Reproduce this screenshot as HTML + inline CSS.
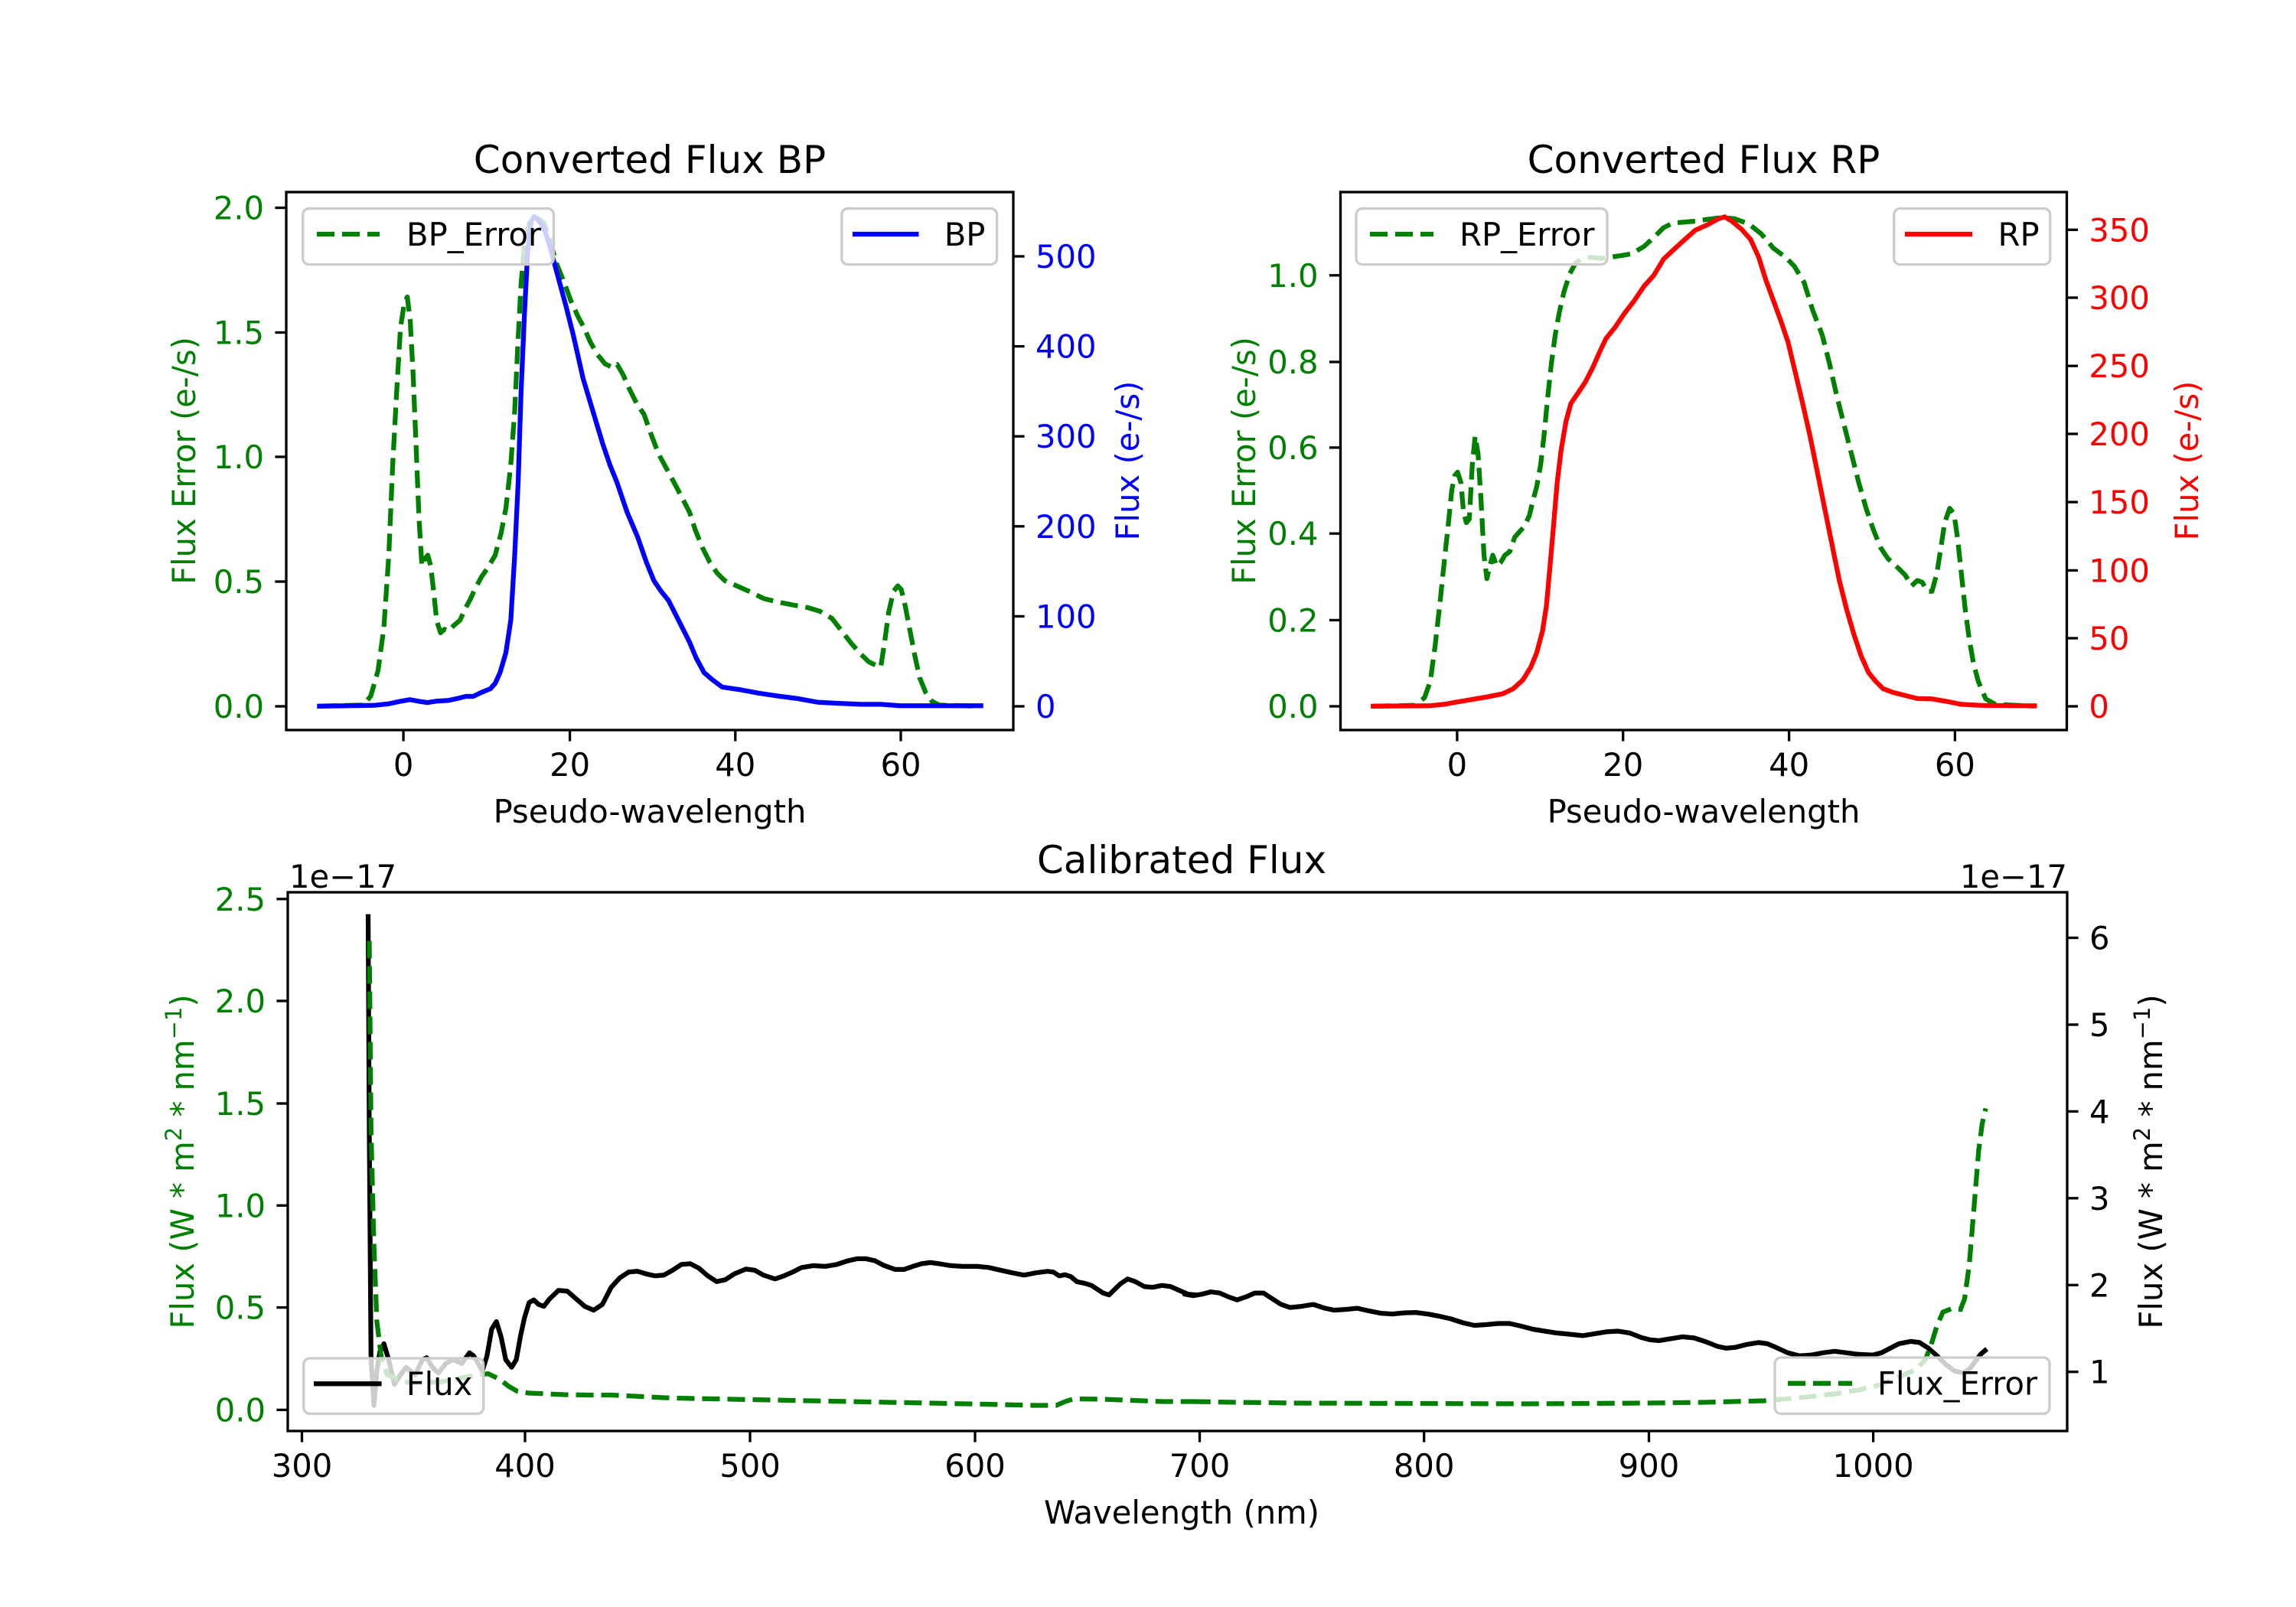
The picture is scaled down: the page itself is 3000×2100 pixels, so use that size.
<!DOCTYPE html>
<html><head><meta charset="utf-8"><style>
html,body{margin:0;padding:0;background:#fff}
svg{display:block}
text{font-family:"DejaVu Sans","Liberation Sans",sans-serif}
</style></head><body>
<svg id="s" width="3000" height="2100" viewBox="0 0 3000 2100" xmlns="http://www.w3.org/2000/svg">
<rect width="3000" height="2100" fill="#fff"/>
<g id="lines"></g>
<g id="frames" fill="none" stroke="#000" stroke-width="3.3">
<rect x="374" y="251" width="950" height="703"/>
<rect x="1751.5" y="251" width="949" height="703"/>
<rect x="376" y="1166" width="2325" height="704"/>
</g>
<g id="ticks" stroke="#000" stroke-width="3.3"></g>
<g id="labels" font-size="41.7"></g>
<g font-size="50" text-anchor="middle">
<text x="849" y="226">Converted Flux BP</text>
<text x="2226" y="226">Converted Flux RP</text>
<text x="1544" y="1141">Calibrated Flux</text>
</g>
<g font-size="41.7">
<text x="378" y="1160">1e−17</text>
<text x="2701" y="1160" text-anchor="end">1e−17</text>
<text x="849" y="1075" text-anchor="middle">Pseudo-wavelength</text>
<text x="2226" y="1075" text-anchor="middle">Pseudo-wavelength</text>
<text x="1544" y="1991" text-anchor="middle">Wavelength (nm)</text>
<text transform="translate(255,602) rotate(-90)" text-anchor="middle" fill="#008000">Flux Error (e-/s)</text>
<text transform="translate(1488,602) rotate(-90)" text-anchor="middle" fill="#0000ff">Flux (e-/s)</text>
<text transform="translate(1640,602) rotate(-90)" text-anchor="middle" fill="#008000">Flux Error (e-/s)</text>
<text transform="translate(2872,602) rotate(-90)" text-anchor="middle" fill="#ff0000">Flux (e-/s)</text>
<text transform="translate(253,1518) rotate(-90)" text-anchor="middle" fill="#008000">Flux (W * m<tspan font-size="29" dy="-16">2</tspan><tspan dy="16"> * nm</tspan><tspan font-size="29" dy="-16">−1</tspan><tspan dy="16">)</tspan></text>
<text transform="translate(2825,1518) rotate(-90)" text-anchor="middle" fill="#000">Flux (W * m<tspan font-size="29" dy="-16">2</tspan><tspan dy="16"> * nm</tspan><tspan font-size="29" dy="-16">−1</tspan><tspan dy="16">)</tspan></text>
</g>
<g id="legends"></g>
</svg>
<script>
var NS="http://www.w3.org/2000/svg";
function el(p,t,a,txt){var e=document.createElementNS(NS,t);for(var k in a)e.setAttribute(k,a[k]);if(txt!==undefined)e.textContent=txt;document.getElementById(p).appendChild(e);return e;}
function conv(pts,ox,oy,sx,sy){return pts.map(function(p){return (ox+p[0]/sx).toFixed(1)+","+(oy+p[1]/sy).toFixed(1)}).join(" ");}
function line(parent,pts,ox,oy,sx,sy,col,dash){var a={points:conv(pts,ox,oy,sx,sy),fill:"none",stroke:col,"stroke-width":6.25,"stroke-linejoin":"round"};if(dash){a["stroke-dasharray"]="23 10";}else{a["stroke-linecap"]="square";}el(parent,"polyline",a);}
var s1x=1.568,s1y=740/1568*0+2.119;
// Panel 1
var bpErr=[[90,1468],[180,1465],[195,1440],[210,1370],[222,1250],[232,1050],[240,800],[248,600],[256,420],[264,350],[270,335],[276,400],[282,550],[288,750],[294,950],[300,1080],[306,1060],[312,1050],[318,1080],[324,1150],[330,1230],[338,1265],[346,1255],[355,1260],[365,1245],[378,1230],[388,1200],[398,1175],[410,1140],[422,1110],[435,1085],[450,1050],[462,990],[472,920],[482,800],[490,650],[497,450],[503,300],[510,190],[520,130],[535,115],[550,130],[562,175],[575,240],[590,290],[605,345],[620,390],[632,420],[645,460],[660,495],[675,520],[690,530],[700,522],[712,550],[725,590],[740,630],[755,660],[768,710],[785,770],[805,820],[825,870],[848,930],[860,980],[875,1030],[890,1070],[905,1100],[920,1120],[945,1135],[970,1150],[1000,1170],[1030,1180],[1060,1188],[1090,1195],[1115,1205],[1140,1225],[1160,1260],[1180,1295],[1200,1325],[1215,1345],[1230,1355],[1240,1360],[1248,1290],[1256,1210],[1266,1150],[1275,1135],[1282,1145],[1290,1190],[1300,1260],[1310,1330],[1320,1390],[1332,1430],[1345,1455],[1360,1465],[1440,1468]];
var bp=[[90,1468],[200,1466],[230,1462],[255,1455],[275,1450],[295,1455],[312,1458],[330,1454],[355,1452],[375,1446],[390,1441],[405,1441],[420,1431],[440,1420],[450,1405],[460,1375],[472,1320],[482,1230],[490,1050],[497,850],[503,600],[510,380],[517,200],[524,125],[530,112],[540,125],[550,145],[560,185],[575,260],[595,360],[610,440],[630,560],[650,650],[670,740],[685,800],[700,850],[720,930],[742,1000],[760,1070],[775,1120],[790,1150],[805,1175],[820,1215],[835,1255],[848,1290],[862,1335],[878,1375],[895,1395],[915,1415],[950,1422],[990,1432],[1030,1440],[1070,1447],[1110,1457],[1150,1460],[1200,1463],[1240,1463],[1280,1467],[1330,1467],[1445,1467]];
line("lines",bpErr,360,230,1.568,2.119,"#008000",true);
line("lines",bp,360,230,1.568,2.119,"#0000ff",false);
// Panel 2
var rpErr=[[85,1468],[170,1466],[190,1445],[202,1400],[212,1300],[222,1180],[232,1050],[240,950],[246,870],[252,830],[258,820],[265,850],[270,930],[276,960],[282,950],[288,800],[294,720],[300,770],[306,900],[312,1050],[318,1115],[324,1080],[330,1050],[338,1080],[346,1070],[355,1050],[365,1040],[375,1000],[385,985],[395,970],[405,940],[412,900],[420,860],[428,800],[435,720],[442,620],[450,520],[458,440],[466,380],[476,320],[488,270],[500,240],[512,230],[530,225],[550,228],[570,225],[595,220],[615,215],[640,195],[660,170],[680,143],[700,130],[720,128],[745,125],[770,120],[800,115],[825,118],[855,133],[880,160],[905,200],[930,225],[948,250],[968,295],[985,370],[1005,440],[1020,520],[1035,610],[1050,690],[1065,770],[1080,850],[1095,920],[1110,980],[1125,1030],[1140,1060],[1160,1085],[1175,1105],[1188,1135],[1200,1120],[1210,1125],[1220,1150],[1230,1150],[1240,1100],[1248,1030],[1256,960],[1266,920],[1275,935],[1282,1000],[1290,1100],[1298,1200],[1306,1280],[1315,1350],[1325,1400],[1340,1448],[1360,1463],[1440,1468]];
var rp=[[85,1468],[200,1467],[230,1463],[255,1457],[285,1450],[320,1442],[350,1434],[372,1420],[392,1395],[408,1360],[420,1320],[432,1260],[440,1190],[448,1070],[455,960],[462,850],[470,760],[480,680],[490,630],[505,600],[520,570],[535,530],[548,490],[562,450],[580,420],[600,380],[620,345],[640,305],[660,275],[680,230],[700,205],[720,180],[745,150],[770,135],[790,120],[805,113],[820,125],[840,148],[858,175],[875,225],[890,290],[905,345],[920,400],[935,460],[950,545],[965,630],[980,720],[995,820],[1010,920],[1025,1020],[1040,1120],[1055,1200],[1070,1270],[1085,1330],[1100,1375],[1115,1400],[1130,1420],[1150,1430],[1180,1440],[1200,1447],[1230,1448],[1260,1455],[1290,1463],[1330,1466],[1440,1467]];
line("lines",rpErr,1740,230,1.568,2.119,"#008000",true);
line("lines",rp,1740,230,1.568,2.119,"#ff0000",false);
// Bottom
var fA=[[145,130],[147,700],[150,1300],[155,1420],[160,1330],[165,1280],[172,1258],[180,1300],[190,1365],[200,1340],[210,1320],[225,1340],[238,1300],[245,1295],[255,1320],[265,1335],[278,1310],[290,1300],[305,1310],[318,1282],[325,1290],[333,1310],[340,1330],[348,1290],[356,1220],[364,1200],[372,1240],[380,1300],[390,1320],[398,1300],[405,1240],[412,1190],[420,1150],[428,1143],[436,1155],[445,1160],[455,1140],[470,1118],[485,1120],[500,1140],[515,1160],[530,1170],[545,1155],[560,1110],[575,1085],[590,1070],[605,1068],[620,1075],[635,1080],[650,1078],[665,1065],[680,1050],[695,1048],[710,1060],[725,1080],[740,1095],[755,1090],[770,1075],[790,1062],[805,1065],[820,1078],[840,1088],[855,1080],[870,1070],[885,1058],[905,1053],[925,1055],[945,1050],[965,1040],[980,1035],[995,1035],[1010,1040],[1025,1052],[1045,1063],[1060,1063],[1075,1055],[1090,1048],[1105,1045],[1120,1048],[1140,1053],[1160,1055],[1185,1055],[1205,1058],[1225,1065],[1245,1072],[1265,1078],[1285,1072],[1305,1068],[1315,1070],[1325,1080],[1335,1077],[1345,1082],[1355,1095],[1370,1100],[1380,1105],[1390,1115],[1400,1125],[1410,1130],[1420,1115],[1430,1100],[1442,1088],[1455,1095],[1470,1108],[1485,1110],[1500,1105],[1515,1108],[1530,1118],[1545,1128],[1560,1130]];
var fB=[[10,1128],[25,1132],[40,1128],[55,1122],[70,1125],[85,1135],[100,1143],[115,1135],[130,1125],[145,1125],[160,1140],[175,1155],[190,1163],[210,1160],[230,1155],[250,1165],[265,1170],[285,1168],[305,1165],[325,1172],[345,1178],[365,1180],[385,1177],[405,1176],[425,1180],[445,1186],[465,1193],[485,1203],[505,1210],[525,1208],[545,1205],[565,1205],[585,1212],[605,1220],[625,1225],[645,1230],[665,1233],[690,1237],[710,1232],[730,1227],[750,1225],[770,1230],[790,1242],[805,1248],[820,1250],[840,1245],[860,1240],[880,1243],[900,1253],[920,1265],[935,1270],[950,1268],[970,1260],[990,1255],[1005,1258],[1020,1268],[1040,1282],[1060,1290],[1080,1288],[1100,1282],[1120,1278],[1140,1282],[1160,1286],[1185,1288],[1200,1282],[1215,1270],[1230,1258],[1250,1252],[1265,1255],[1280,1270],[1295,1290],[1310,1313],[1325,1330],[1340,1335],[1350,1325],[1360,1305],[1370,1285],[1380,1272]];
var sxB=1.3067,syB=2.01;
// merge into one line in orig coords
var all=fA.map(function(p){return [370+p[0]/sxB,1130+p[1]/syB]}).concat(fB.map(function(p){return [1540+p[0]/sxB,1130+p[1]/syB]}));
var eA=[[147,200],[150,700],[155,1000],[160,1200],[168,1300],[178,1340],[195,1352],[215,1360],[240,1360],[270,1358],[300,1350],[330,1340],[350,1337],[370,1352],[385,1370],[400,1383],[420,1388],[450,1390],[480,1392],[520,1393],[560,1393],[600,1396],[650,1400],[700,1402],[800,1405],[900,1408],[1000,1411],[1100,1414],[1200,1417],[1280,1420],[1320,1420],[1335,1410],[1350,1403],[1400,1404],[1450,1407],[1500,1410],[1560,1410]];
var eB=[[20,1410],[100,1412],[200,1414],[400,1415],[600,1416],[800,1414],[900,1412],[1000,1408],[1060,1400],[1120,1390],[1160,1380],[1200,1365],[1230,1345],[1260,1325],[1275,1300],[1285,1260],[1295,1210],[1305,1175],[1320,1166],[1335,1168],[1342,1140],[1350,1050],[1358,900],[1366,750],[1372,680],[1378,640]];
var eall=eA.map(function(p){return [370+p[0]/sxB,1130+p[1]/syB]}).concat(eB.map(function(p){return [1540+p[0]/sxB,1130+p[1]/syB]}));
el("lines","polyline",{points:all.map(function(p){return p[0].toFixed(1)+","+p[1].toFixed(1)}).join(" "),fill:"none",stroke:"#000","stroke-width":6.25,"stroke-linejoin":"round"});
el("lines","polyline",{points:eall.map(function(p){return p[0].toFixed(1)+","+p[1].toFixed(1)}).join(" "),fill:"none",stroke:"#008000","stroke-width":6.25,"stroke-dasharray":"23 10"});
// ticks
function xt(xs,labs,yb){for(var i=0;i<xs.length;i++){el("ticks","line",{x1:xs[i],x2:xs[i],y1:yb,y2:yb+14.6});el("labels","text",{x:xs[i],y:yb+60,"text-anchor":"middle"},labs[i]);}}
function ytl(x,ys,labs,col){for(var i=0;i<ys.length;i++){el("ticks","line",{x1:x,x2:x-14.6,y1:ys[i],y2:ys[i]});el("labels","text",{x:x-29,y:ys[i]+15,"text-anchor":"end",fill:col},labs[i]);}}
function ytr(x,ys,labs,col){for(var i=0;i<ys.length;i++){el("ticks","line",{x1:x,x2:x+14.6,y1:ys[i],y2:ys[i]});el("labels","text",{x:x+29,y:ys[i]+15,"text-anchor":"start",fill:col},labs[i]);}}
xt([527.1,744.6,960.8,1177],["0","20","40","60"],954);
xt([1903.9,2120.7,2337.6,2554.4],["0","20","40","60"],954);
xt([394.5,686,980,1274,1567.5,1860.7,2154.5,2447.6],["300","400","500","600","700","800","900","1000"],1870);
ytl(374,[923,760,597,434.5,271.5],["0.0","0.5","1.0","1.5","2.0"],"#008000");
ytr(1324,[923,805.4,687.8,570.2,452.6,335],["0","100","200","300","400","500"],"#0000ff");
ytl(1751.5,[923,810.4,697.2,584.9,473,359.8],["0.0","0.2","0.4","0.6","0.8","1.0"],"#008000");
ytr(2700.4,[923,834,745.4,656.1,567,478.2,389,300.3],["0","50","100","150","200","250","300","350"],"#ff0000");
ytl(376,[1842.4,1708.6,1575.3,1442,1308,1174.8],["0.0","0.5","1.0","1.5","2.0","2.5"],"#008000");
ytr(2701,[1792.7,1679.3,1565.8,1452.4,1339,1225.5],["1","2","3","4","5","6"],"#000");
// legends
function leg(x1,x2,y1,y2,lx1,lx2,tx,col,dash,label){
 el("legends","rect",{x:x1,y:y1,width:x2-x1,height:y2-y1,rx:8,fill:"#fff","fill-opacity":0.8,stroke:"#cccccc","stroke-width":3.3});
 var ly=(y1+y2)/2-3;var a={x1:lx1,x2:lx2,y1:ly,y2:ly,stroke:col,"stroke-width":6.25};if(dash)a["stroke-dasharray"]="23 10";
 el("legends","line",a);el("legends","text",{x:tx,y:ly+15,"font-size":41.7},label);}
leg(395.7,723.5,272.5,345.6,414,496,531,"#008000",true,"BP_Error");
leg(1099.8,1302.6,272.5,345.6,1114,1200.5,1233.7,"#0000ff",false,"BP");
leg(1772,2100,272.5,345.6,1790,1873,1907,"#008000",true,"RP_Error");
leg(2474.7,2678.8,272.5,345.6,2489,2577,2610.5,"#ff0000",false,"RP");
leg(396.8,631.7,1775,1847.4,410,498.6,530.7,"#000",false,"Flux");
leg(2319,2678,1774,1847.4,2336,2420,2453,"#008000",true,"Flux_Error");
</script>
</body></html>
